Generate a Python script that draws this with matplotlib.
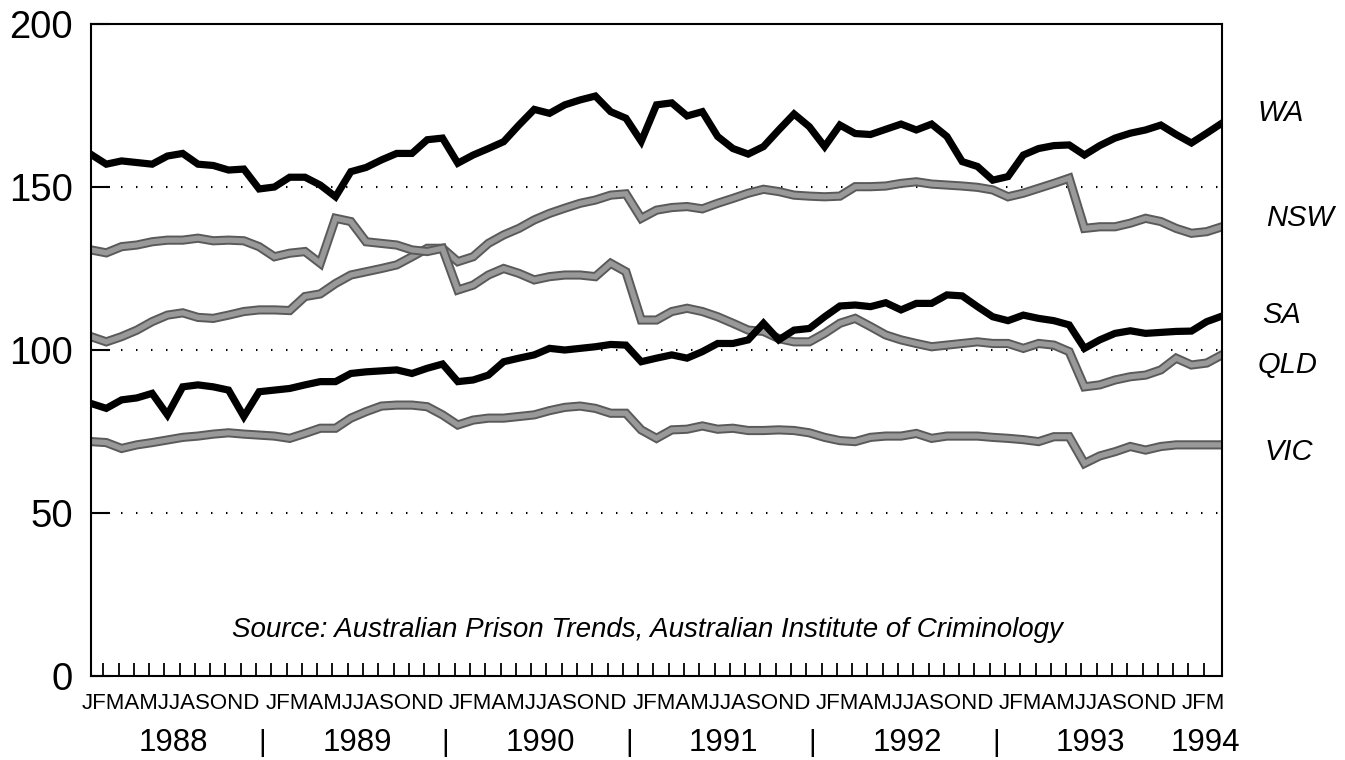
import numpy as np
import matplotlib
matplotlib.use("Agg")
import matplotlib.pyplot as plt

# monthly series, Jan 1988 .. Mar 1994 (75 months)
month_groups = ["JFMAMJJASOND"] * 6 + ["JFM"]
years = ["1988", "1989", "1990", "1991", "1992", "1993", "1994"]

wa = [160, 157, 158, 157.5, 157, 159.5, 160.3, 157, 156.6, 155.2, 155.5, 149.4,
      150, 153, 153, 150.6, 147, 154.7, 156, 158.3, 160.3, 160.3, 164.5, 165,
      157.3, 159.8, 161.8, 163.9, 169, 173.8, 172.6, 175.2, 176.7, 177.9, 173.1, 171.1,
      164, 175.2, 175.8, 171.8, 173.1, 165.5, 161.8, 160.1, 162.4, 167.5, 172.4, 168.5,
      162.4, 169, 166.4, 166.1, 167.7, 169.3, 167.5, 169.3, 165.5, 157.8, 156.3, 152.1,
      153.2, 159.8, 161.8, 162.7, 162.9, 159.8, 162.7, 165, 166.5, 167.5, 169, 166.1,
      163.5, 166.5, 169.6]

nsw = [104.1, 102.5, 104.1, 106.1, 108.7, 110.7, 111.4, 110, 109.7, 110.7, 111.8, 112.3,
       112.3, 112.1, 116.4, 117.2, 120.4, 123, 124, 125, 126.1, 128.6, 131.2, 131.2,
       127.1, 128.6, 132.7, 135.3, 137.3, 139.9, 141.9, 143.5, 145, 146, 147.5, 147.9,
       140.4, 142.9, 143.7, 144, 143.3, 145, 146.5, 148.1, 149.3, 148.6, 147.5, 147.2,
       147, 147.2, 150.1, 150.1, 150.3, 151.1, 151.6, 150.9, 150.6, 150.3, 149.9, 149.1,
       147, 148.1, 149.6, 151.1, 152.7, 137.3, 137.8, 137.8, 138.9, 140.4, 139.4, 137.3,
       135.8, 136.3, 137.8]

sa = [83.6, 82.1, 84.7, 85.3, 86.7, 80.1, 88.7, 89.3, 88.7, 87.7, 79.6, 87.2,
      87.7, 88.2, 89.3, 90.3, 90.3, 92.8, 93.3, 93.6, 93.9, 92.8, 94.4, 95.7,
      90.3, 90.8, 92.3, 96.4, 97.5, 98.5, 100.5, 100, 100.5, 101, 101.7, 101.5,
      96.4, 97.5, 98.5, 97.5, 99.5, 102, 102, 103.1, 108.2, 103.1, 106.1, 106.6,
      110.2, 113.5, 113.8, 113.3, 114.5, 112.3, 114.3, 114.3, 116.9, 116.6, 113.3, 110.2,
      109, 110.7, 109.7, 109, 107.7, 100.5, 103.1, 105.1, 105.9, 105.1, 105.4, 105.7,
      105.8, 108.7, 110.4]

qld = [130.7, 129.8, 131.7, 132.2, 133.2, 133.7, 133.7, 134.3, 133.5, 133.7, 133.5, 131.7,
       128.6, 129.7, 130.2, 126.6, 140.4, 139.4, 133.2, 132.7, 132.2, 130.7, 130.2, 131.2,
       118.4, 119.9, 123, 125, 123.5, 121.5, 122.5, 123, 123, 122.5, 126.6, 124,
       109.2, 109.2, 111.8, 112.8, 111.8, 110.2, 108.2, 106.1, 105.7, 103.5, 102.5, 102.5,
       105.1, 108.2, 109.7, 107.2, 104.6, 103.1, 102, 101, 101.5, 102, 102.5, 102,
       102, 100.5, 102, 101.5, 99.5, 88.7, 89.3, 90.8, 91.8, 92.3, 93.9, 97.5,
       95.4, 96, 98.5]

vic = [71.9, 71.6, 69.8, 70.9, 71.6, 72.4, 73.2, 73.6, 74.2, 74.6, 74.2, 73.9,
       73.6, 72.9, 74.4, 76, 76, 79.1, 81.1, 82.8, 83.1, 83.1, 82.6, 80.1,
       77, 78.5, 79.1, 79.1, 79.6, 80.1, 81.4, 82.4, 82.8, 82.1, 80.6, 80.6,
       75.5, 72.9, 75.5, 75.7, 76.7, 75.7, 76, 75.3, 75.3, 75.5, 75.3, 74.6,
       73.2, 72.2, 71.9, 73.2, 73.6, 73.6, 74.4, 72.9, 73.6, 73.6, 73.6, 73.2,
       72.9, 72.5, 71.9, 73.4, 73.4, 65.2, 67.5, 68.8, 70.4, 69.3, 70.4, 70.9,
       70.9, 70.9, 70.9]

labels = ["WA", "NSW", "SA", "QLD", "VIC"]
label_y = [172.7, 140.5, 110.6, 95.4, 68.7]
label_x = [76.3, 76.9, 76.6, 76.3, 76.8]

FONT = ["Liberation Sans", "DejaVu Sans"]
plt.rcParams["font.family"] = FONT

fig = plt.figure(figsize=(13.45, 7.6), dpi=100)
ax = fig.add_axes([91 / 1345, 84 / 760, 1131 / 1345, 652 / 760])

x = np.arange(len(wa))

# dotted reference lines
for yv in [50, 100, 150]:
    ax.axhline(yv, color="black", lw=1.5, linestyle=(0, (0.7, 6.5)), zorder=1)

# grey series: dark rim + lighter core
for s in [nsw, qld, vic]:
    ax.plot(x, s, color="#5a5a5a", lw=6.6, solid_joinstyle="miter", zorder=2)
    ax.plot(x, s, color="#999999", lw=3.8, solid_joinstyle="miter", zorder=2)
for s in [wa, sa]:
    ax.plot(x, s, color="black", lw=5.2, solid_joinstyle="miter", zorder=3)

ax.set_xlim(0, 74)
ax.set_ylim(0, 200)

ax.set_yticks([0, 50, 100, 150, 200])
ax.set_yticklabels(["0", "50", "100", "150", "200"], fontsize=27.5)
ax.tick_params(axis="y", direction="in", length=14, width=1.5, pad=13)

ax.set_xticks(np.arange(73) + 0.8)
ax.set_xticklabels([])
ax.tick_params(axis="x", direction="in", length=9.5, width=1.3)

for sp in ax.spines.values():
    sp.set_linewidth(1.5)

# month initials, one tight run per year
for k, grp in enumerate(month_groups):
    xc = 12 * k + 5.25 if k < 6 else 72.75
    ax.text(xc, -8.3, grp, ha="center", va="center", fontsize=16, clip_on=False)

# year labels with separators
for k, yr in enumerate(years):
    xp = 12 * k + 5.4 if k < 6 else 72.9
    ax.text(xp, -20.6, yr, ha="center", va="center", fontsize=22.5, clip_on=False)
    if k < 5:
        ax.text(12 * k + 11.2, -20.6, "|", ha="center", va="center", fontsize=21,
                clip_on=False)

# series labels on the right
for lb, ly, lx in zip(labels, label_y, label_x):
    ax.text(lx, ly, lb, ha="left", va="center", fontsize=21, style="italic",
            clip_on=False)

ax.text(36.4, 14.1, "Source: Australian Prison Trends, Australian Institute of Criminology",
        ha="center", va="center", fontsize=20, style="italic")

fig.savefig("out.png", dpi=100)
